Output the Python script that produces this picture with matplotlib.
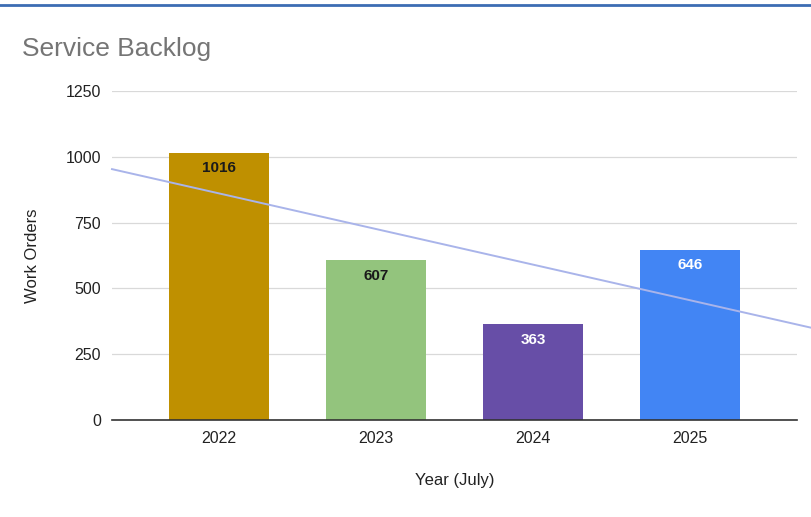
import numpy as np
import matplotlib.pyplot as plt
from matplotlib.lines import Line2D

plt.rcParams['font.family'] = ['Liberation Sans', 'DejaVu Sans']

years = ['2022', '2023', '2024', '2025']
work_orders = [1016, 607, 363, 646]
bar_colors = ['#bf9000', '#93c47d', '#674ea7', '#4285f4']
label_colors = ['#1a1a1a', '#1a1a1a', '#ffffff', '#ffffff']
yticks = [0, 250, 500, 750, 1000, 1250]

fig = plt.figure(figsize=(8.12, 5.17), dpi=100)
ax = fig.add_axes([112/812, 1 - 420/517, (797-112)/812, (420-91)/517])

x = np.arange(len(years))
ax.bar(x, work_orders, width=0.64, color=bar_colors, zorder=2)

for xi, v, c in zip(x, work_orders, label_colors):
    ax.annotate(str(v), (xi, v), xytext=(0, -11), textcoords='offset points',
                ha='center', va='center', fontsize=11, fontweight='bold', color=c, zorder=4)

# linear trendline over the bars
xmin, xmax = -0.68, 3.68
k, b = np.polyfit(x, work_orders, 1)
xt = np.array([xmin, xmax + 0.1])
ax.plot(xt, k*xt + b, color='#a9b4ea', linewidth=1.4, zorder=3, clip_on=False)

ax.set_xlim(xmin, xmax)
ax.set_ylim(0, 1250)
ax.set_xticks(x)
ax.set_xticklabels(years)
ax.set_yticks(yticks)
ax.grid(axis='y', color='#d9d9d9', linewidth=0.9, zorder=0)
ax.set_axisbelow(True)
for s in ['top', 'right', 'left']:
    ax.spines[s].set_visible(False)
ax.spines['bottom'].set_color('#333333')
ax.spines['bottom'].set_linewidth(1.2)
ax.spines['bottom'].set_zorder(5)
ax.tick_params(length=0, labelsize=11.5, colors='#222222')
ax.tick_params(axis='y', pad=8)
ax.tick_params(axis='x', pad=8)

ax.set_xlabel('Year (July)', fontsize=12, color='#222222', labelpad=19)
ax.set_ylabel('Work Orders', fontsize=12, color='#222222', labelpad=18)

fig.text(22/812, 1 - 49/517, 'Service Backlog', fontsize=19, color='#757575',
         ha='left', va='center')
fig.add_artist(Line2D([0, 1], [1 - 5/517, 1 - 5/517], color='#3c6db3', linewidth=2))

fig.savefig('out.png', dpi=100)
